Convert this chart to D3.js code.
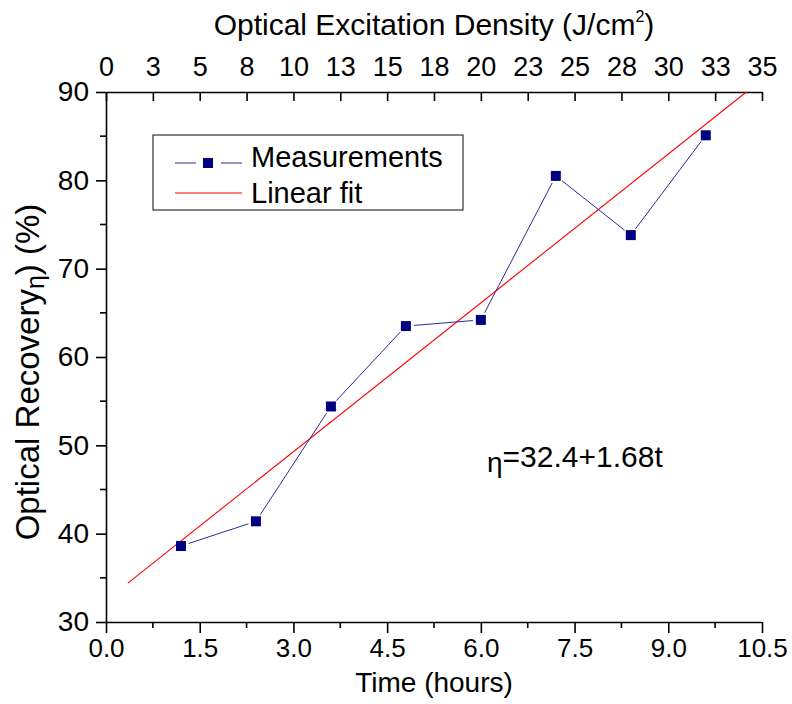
<!DOCTYPE html>
<html><head><meta charset="utf-8">
<script src="https://cdn.jsdelivr.net/npm/d3@7"></script>
<style>body{margin:0;background:#fff}svg{display:block}text{font-family:"Liberation Sans",Arial,sans-serif;fill:#000}</style>
</head><body>
<script>
// Data
const timeHours = [1.2, 2.4, 3.6, 4.8, 6.0, 7.2, 8.4, 9.6];
const recovery = [38.6, 41.4, 54.4, 63.5, 64.2, 80.5, 73.8, 85.1];
const fitTime = [0.35, 10.25];
const fitRecovery = [34.4, 90.0];
const bottomTicks = [0, 1.5, 3, 4.5, 6, 7.5, 9, 10.5];
const leftTicks = [30, 40, 50, 60, 70, 80, 90];
const topTicks = [0, 2.5, 5, 7.5, 10, 12.5, 15, 17.5, 20, 22.5, 25, 27.5, 30, 32.5, 35];
const seriesNames = ["Measurements", "Linear fit"];
const equationText = "=32.4+1.68t";

const W = 792, H = 704;
const m = {left: 106, right: 30, top: 92, bottom: 82};
const svg = d3.select("body").append("svg").attr("width", W).attr("height", H);

const x = d3.scaleLinear().domain([0, 10.5]).range([m.left, W - m.right]);
const xTop = d3.scaleLinear().domain([0, 35]).range([m.left, W - m.right]);
const y = d3.scaleLinear().domain([30, 90]).range([H - m.bottom, m.top]);

const bottomMinor = d3.range(0.75, 10.5, 1.5);
const leftMinor = d3.range(35, 90, 10);

function styleAxis(g, fs){
  g.select(".domain").attr("stroke", "#000").attr("stroke-width", 1.6);
  g.selectAll(".tick line").attr("stroke", "#000").attr("stroke-width", 1.6);
  g.selectAll("text").style("font-size", fs + "px").attr("fill", "#000");
}

// bottom axis
const gb = svg.append("g").attr("transform", `translate(0,${y(30)})`)
  .call(d3.axisBottom(x).tickValues(bottomTicks).tickFormat(d3.format(".1f")).tickSize(11).tickPadding(6).tickSizeOuter(0));
styleAxis(gb, 26);
gb.selectAll(".minor").data(bottomMinor).enter().append("line")
  .attr("x1", d => x(d)).attr("x2", d => x(d)).attr("y1", 0).attr("y2", 6)
  .attr("stroke", "#000").attr("stroke-width", 1.6);

// left axis
const gl = svg.append("g").attr("transform", `translate(${x(0)},0)`)
  .call(d3.axisLeft(y).tickValues(leftTicks).tickFormat(d3.format("d")).tickSize(10).tickPadding(7).tickSizeOuter(0));
styleAxis(gl, 28);
gl.selectAll(".minor").data(leftMinor).enter().append("line")
  .attr("y1", d => y(d)).attr("y2", d => y(d)).attr("x1", 0).attr("x2", -6)
  .attr("stroke", "#000").attr("stroke-width", 1.6);

// top axis (ticks inward)
const gt = svg.append("g").attr("transform", `translate(0,${y(90)})`)
  .call(d3.axisTop(xTop).tickValues(topTicks).tickFormat(d => String(Math.round(d))).tickSize(-9).tickPadding(16).tickSizeOuter(0));
styleAxis(gt, 27);
gt.selectAll(".tick text").attr("y", -16);

// fit line
svg.append("line")
  .attr("x1", x(fitTime[0])).attr("y1", y(fitRecovery[0]))
  .attr("x2", x(fitTime[1])).attr("y2", y(fitRecovery[1]))
  .attr("stroke", "#ff0000").attr("stroke-width", 1.1);

// measurement connecting segments with gaps around markers
const pts = timeHours.map((t, i) => [x(t), y(recovery[i])]);
const gap = 8;
for (let i = 0; i < pts.length - 1; i++) {
  const [x1, y1] = pts[i], [x2, y2] = pts[i + 1];
  const L = Math.hypot(x2 - x1, y2 - y1);
  const ux = (x2 - x1) / L, uy = (y2 - y1) / L;
  svg.append("line")
    .attr("x1", x1 + ux * gap).attr("y1", y1 + uy * gap)
    .attr("x2", x2 - ux * gap).attr("y2", y2 - uy * gap)
    .attr("stroke", "#2a2a98").attr("stroke-width", 1);
}
const ms = 10;
svg.selectAll(".pt").data(pts).enter().append("rect")
  .attr("x", d => d[0] - ms / 2).attr("y", d => d[1] - ms / 2)
  .attr("width", ms).attr("height", ms).attr("fill", "#000080");

// legend
const lg = svg.append("g");
lg.append("rect").attr("x", 153).attr("y", 135).attr("width", 310).attr("height", 75)
  .attr("fill", "#fff").attr("stroke", "#333").attr("stroke-width", 1.2);
lg.append("line").attr("x1", 175).attr("x2", 196).attr("y1", 163).attr("y2", 163).attr("stroke", "#2a2a98").attr("stroke-width", 1);
lg.append("line").attr("x1", 221).attr("x2", 242).attr("y1", 163).attr("y2", 163).attr("stroke", "#2a2a98").attr("stroke-width", 1);
lg.append("rect").attr("x", 203).attr("y", 158).attr("width", ms).attr("height", ms).attr("fill", "#000080");
lg.append("line").attr("x1", 175).attr("x2", 242).attr("y1", 193).attr("y2", 193).attr("stroke", "#ff0000").attr("stroke-width", 1.1);
lg.append("text").attr("x", 251).attr("y", 167).style("font-size", "29px").text(seriesNames[0]);
lg.append("text").attr("x", 251).attr("y", 203).style("font-size", "29px").text(seriesNames[1]);

// equation
const eq = svg.append("text").attr("x", 487).attr("y", 467).style("font-size", "30px");
eq.append("tspan").attr("dy", 5).style("font-size", "28px").text("η");
eq.append("tspan").attr("dy", -5).text(equationText);

// axis titles
svg.append("text").attr("x", (x(0) + x(10.5)) / 2).attr("y", 692).attr("text-anchor", "middle")
  .style("font-size", "28px").text("Time (hours)");
const tt = svg.append("text").attr("x", (x(0) + x(10.5)) / 2).attr("y", 35).attr("text-anchor", "middle")
  .style("font-size", "30px");
tt.append("tspan").text("Optical Excitation Density (J/cm");
tt.append("tspan").attr("dy", -13).style("font-size", "16px").text("2");
tt.append("tspan").attr("dy", 13).text(")");
const yt = svg.append("text").attr("transform", `translate(39,372) rotate(-90)`)
  .attr("text-anchor", "middle").style("font-size", "33px");
yt.append("tspan").text("Optical Recovery");
yt.append("tspan").attr("dy", 5).style("font-size", "25px").text("η");
yt.append("tspan").attr("dy", -5).text(") (%)");
</script>
</body></html>
